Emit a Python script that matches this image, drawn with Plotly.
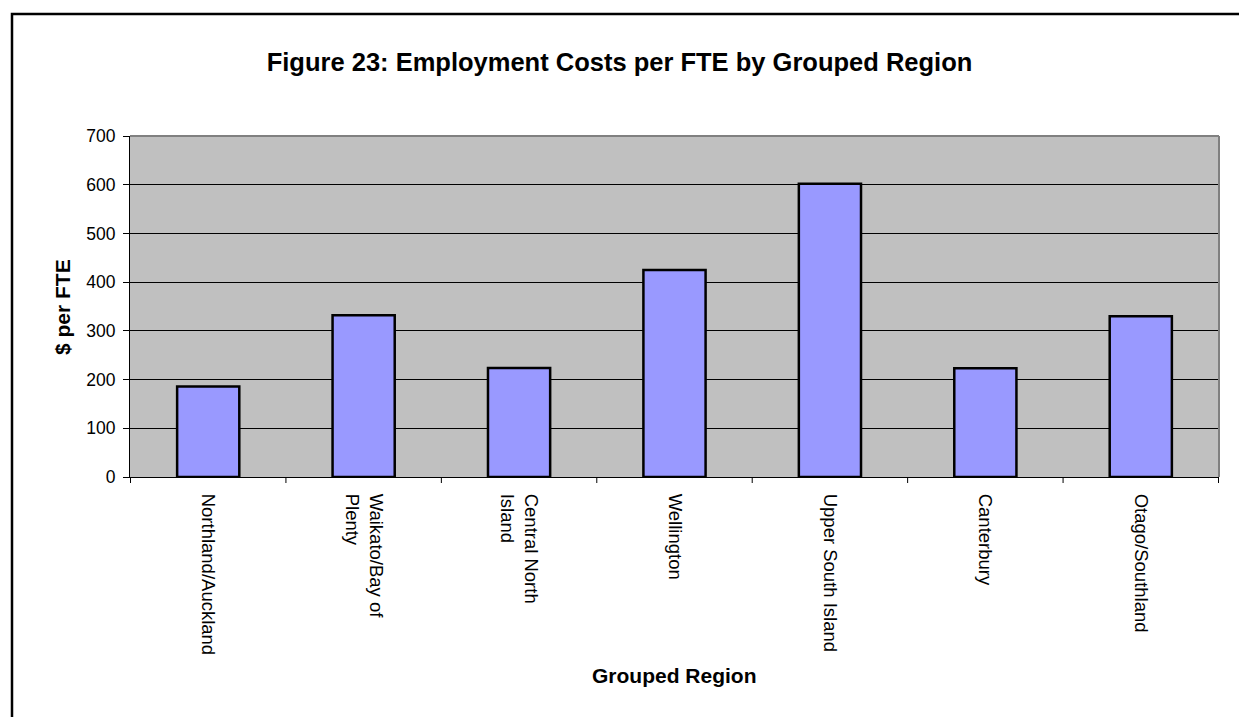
import plotly.graph_objects as go

regions = [
    "Northland/Auckland",
    "Waikato/Bay of<br>Plenty",
    "Central North<br>Island",
    "Wellington",
    "Upper South Island",
    "Canterbury",
    "Otago/Southland",
]
cost_per_fte = [186, 332, 224, 425, 602, 223, 330]
y_ticks = [0, 100, 200, 300, 400, 500, 600, 700]

FONT = "Liberation Sans, Arial, sans-serif"

W, H = 1239, 717
L, R, T, B = 130, 20, 136, 240
pw, ph = W - L - R, H - T - B


def px_x(x):
    return (x - L) / pw


def px_y(y):
    return (H - B - y) / ph


fig = go.Figure(
    go.Bar(
        x=regions,
        y=cost_per_fte,
        width=0.4,
        marker=dict(color="#9999FF", line=dict(color="black", width=2.5)),
    )
)

fig.update_layout(
    width=W,
    height=H,
    margin=dict(l=L, r=R, t=T, b=B, autoexpand=False),
    paper_bgcolor="white",
    plot_bgcolor="#C0C0C0",
    font=dict(family=FONT, size=17, color="black"),
    showlegend=False,
    title=dict(
        text="<b>Figure 23: Employment Costs per FTE by Grouped Region</b>",
        x=0.5,
        xanchor="center",
        y=1 - 62 / H,
        yanchor="middle",
        font=dict(family=FONT, size=25.5, color="black"),
    ),
    xaxis=dict(
        tickangle=90,
        showgrid=False,
        showline=True,
        linecolor="black",
        linewidth=1,
        ticks="",
        ticklabelstandoff=12,
        tickfont=dict(family=FONT, size=18.5),
    ),
    yaxis=dict(
        range=[0, 700],
        tickvals=y_ticks,
        showgrid=True,
        gridcolor="black",
        gridwidth=1,
        showline=True,
        linecolor="black",
        linewidth=1,
        ticks="outside",
        ticklen=6,
        tickcolor="black",
        zeroline=False,
        ticklabelstandoff=4,
        tickfont=dict(family=FONT, size=17.5),
    ),
)

# axis titles
fig.add_annotation(
    text="<b>$ per FTE</b>", xref="paper", yref="paper",
    x=px_x(62), y=px_y(307), xanchor="center", yanchor="middle",
    textangle=-90, showarrow=False, font=dict(family=FONT, size=21),
)
fig.add_annotation(
    text="<b>Grouped Region</b>", xref="paper", yref="paper",
    x=0.5, y=px_y(675), xanchor="center", yanchor="middle",
    showarrow=False, font=dict(family=FONT, size=21),
)

# tick marks between categories on the x axis
for i in range(len(regions) + 1):
    fig.add_shape(
        type="line", xref="x", yref="paper",
        x0=i - 0.5, x1=i - 0.5, y0=0, y1=-6 / ph,
        line=dict(color="black", width=1),
    )

# grey frame on top and right of the plot area
fig.add_shape(
    type="line", xref="paper", yref="paper", x0=0, x1=1, y0=1, y1=1,
    line=dict(color="#808080", width=2),
)
fig.add_shape(
    type="line", xref="paper", yref="paper", x0=1, x1=1, y0=0, y1=1,
    line=dict(color="#808080", width=2),
)

# outer chart border
fig.add_shape(
    type="rect", xref="paper", yref="paper",
    x0=px_x(12), x1=px_x(W + 5), y0=px_y(H + 5), y1=px_y(14),
    line=dict(color="black", width=2.5),
    layer="below",
)

fig.write_html("out.html")
